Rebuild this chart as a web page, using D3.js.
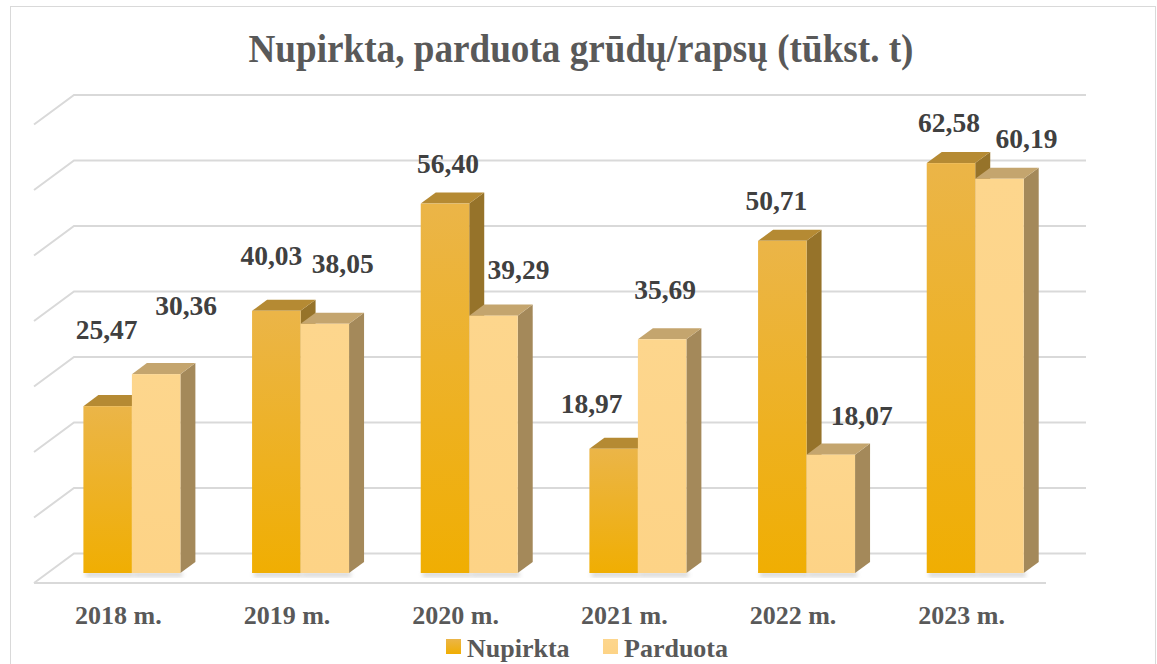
<!DOCTYPE html>
<meta charset="utf-8">
<style>
  body { margin: 0; background: #fff; }
  text { font-family: "Liberation Serif", "Times New Roman", serif; font-weight: bold; }
</style>
<script src="https://d3js.org/d3.v7.min.js"></script>
<body>
</body>
<script>
// chart data
var years = ["2018 m.", "2019 m.", "2020 m.", "2021 m.", "2022 m.", "2023 m."];
var seriesNames = ["Nupirkta", "Parduota"];
var nupirkta = [25.47, 40.03, 56.40, 18.97, 50.71, 62.58];
var parduota = [30.36, 38.05, 39.29, 35.69, 18.07, 60.19];
var yTicks = [0, 10, 20, 30, 40, 50, 60, 70];

// hand placed data label nudges (Excel moved them around a bit)
var labelNudgeX = [[-1, -5, 3, -22, -6, -2], [30, 18, 25, 3, 31, 27]];
var labelNudgeY = [[-36, -15, 0, -5, 0, 0], [-28, -20, -6, -9, 1, 0]];

var width = 1157, height = 664;

var svg = d3.select("body").append("svg")
    .attr("width", width)
    .attr("height", height);

// 3d layout: back wall + depth vector
var wallX0 = 74, wallX1 = 1086;
var depth = [-40, 29.5];       // back wall -> front edge of floor
var uFront = 0.661, uBack = 0.286;   // depth fractions of bar faces

var y = d3.scaleLinear().domain([0, 70]).range([553.5, 95]);
var x = d3.scaleBand().domain(years).range([0, wallX1 - wallX0])
    .paddingInner(0.425).paddingOuter(0.2125);
var xs = d3.scaleBand().domain(seriesNames).range([0, x.bandwidth()]);

var defs = svg.append("defs");
var g1 = defs.append("linearGradient").attr("id", "gN").attr("x1", 0).attr("y1", 0).attr("x2", 0).attr("y2", 1);
g1.append("stop").attr("offset", "0%").attr("stop-color", "#EBB548");
g1.append("stop").attr("offset", "100%").attr("stop-color", "#F0AE02");
var g2 = defs.append("linearGradient").attr("id", "gP").attr("x1", 0).attr("y1", 0).attr("x2", 0).attr("y2", 1);
g2.append("stop").attr("offset", "0%").attr("stop-color", "#FDD68D");
g2.append("stop").attr("offset", "100%").attr("stop-color", "#FDD386");
defs.append("filter").attr("id", "blur").append("feGaussianBlur").attr("stdDeviation", 2);

// outer border
svg.append("rect")
    .attr("x", 10.5).attr("y", 6.5)
    .attr("width", 1145).attr("height", 700)
    .attr("fill", "none").attr("stroke", "#D9D9D9");

// title
svg.append("text")
    .attr("x", 581).attr("y", 62)
    .attr("text-anchor", "middle")
    .attr("font-size", 41)
    .attr("textLength", 665).attr("lengthAdjust", "spacingAndGlyphs")
    .attr("fill", "#595959")
    .text("Nupirkta, parduota grūdų/rapsų (tūkst. t)");

// gridlines on back wall with side wall diagonals
var grid = svg.append("g").attr("stroke", "#D9D9D9").attr("stroke-width", 2).attr("fill", "none");
yTicks.forEach(function(t) {
    var yy = y(t);
    grid.append("path")
        .attr("d", "M" + (wallX0 + depth[0]) + "," + (yy + depth[1]) + "L" + wallX0 + "," + yy + "L" + wallX1 + "," + yy);
});
// floor front edge
grid.append("path")
    .attr("d", "M" + (wallX0 + depth[0]) + "," + (y(0) + depth[1]) + "L" + (wallX1 + depth[0]) + "," + (y(0) + depth[1]));

var faceColors = {
    Nupirkta: { front: "url(#gN)", top: "#B58A33", side: "#96732A" },
    Parduota: { front: "url(#gP)", top: "#C4A56E", side: "#A4895A" }
};

var fx = wallX0 + depth[0] * uFront, fy = depth[1] * uFront;   // front plane shift
var bdx = depth[0] * (uBack - uFront), bdy = depth[1] * (uBack - uFront); // to back of bar

var bars = [];
years.forEach(function(yr, i) {
    seriesNames.forEach(function(s, j) {
        var v = j === 0 ? nupirkta[i] : parduota[i];
        bars.push({ year: yr, i: i, series: s, j: j, value: v });
    });
});

var barG = svg.append("g");

// floor shadows
barG.selectAll(".shadow").data(bars).enter().append("rect")
    .attr("x", function(d) { return fx + x(d.year) + xs(d.series) + 2; })
    .attr("y", y(0) + fy - 1)
    .attr("width", xs.bandwidth())
    .attr("height", 5)
    .attr("fill", "#bbb").attr("opacity", 0.6)
    .attr("filter", "url(#blur)");

var bar = barG.selectAll(".bar").data(bars).enter().append("g").attr("class", "bar");

function geom(d) {
    var x0 = fx + x(d.year) + xs(d.series);
    var x1 = x0 + xs.bandwidth();
    var yt = y(d.value) + fy, yb = y(0) + fy;
    return { x0: x0, x1: x1, yt: yt, yb: yb };
}

bar.append("path")
    .attr("d", function(d) {
        var g = geom(d);
        return "M" + g.x1 + "," + g.yt + "L" + (g.x1 + bdx) + "," + (g.yt + bdy) +
            "L" + (g.x1 + bdx) + "," + (g.yb + bdy) + "L" + g.x1 + "," + g.yb + "Z";
    })
    .attr("fill", function(d) { return faceColors[d.series].side; });

bar.append("path")
    .attr("d", function(d) {
        var g = geom(d);
        return "M" + g.x0 + "," + g.yt + "L" + g.x1 + "," + g.yt +
            "L" + (g.x1 + bdx) + "," + (g.yt + bdy) + "L" + (g.x0 + bdx) + "," + (g.yt + bdy) + "Z";
    })
    .attr("fill", function(d) { return faceColors[d.series].top; });

bar.append("rect")
    .attr("x", function(d) { return geom(d).x0; })
    .attr("y", function(d) { return geom(d).yt; })
    .attr("width", xs.bandwidth())
    .attr("height", function(d) { var g = geom(d); return g.yb - g.yt; })
    .attr("fill", function(d) { return faceColors[d.series].front; });

// data labels
svg.append("g").selectAll("text").data(bars).enter().append("text")
    .attr("x", function(d) { return geom(d).x0 + xs.bandwidth() / 2 + labelNudgeX[d.j][d.i]; })
    .attr("y", function(d) { return geom(d).yt - 31 + labelNudgeY[d.j][d.i]; })
    .attr("text-anchor", "middle")
    .attr("font-size", 27.5)
    .attr("fill", "#404040")
    .text(function(d) { return d3.format(".2f")(d.value).replace(".", ","); });

// category labels along floor front edge
svg.append("g").selectAll("text").data(years).enter().append("text")
    .attr("x", function(d) { return wallX0 + depth[0] + x(d) + x.bandwidth() / 2; })
    .attr("y", 624)
    .attr("text-anchor", "middle")
    .attr("font-size", 26)
    .attr("fill", "#595959")
    .text(function(d) { return d; });

// legend
var legend = svg.append("g").attr("transform", "translate(446,639)");
var legX = [0, 157];
seriesNames.forEach(function(s, k) {
    var lg = legend.append("g").attr("transform", "translate(" + legX[k] + ",0)");
    lg.append("rect").attr("width", 15).attr("height", 15)
        .attr("fill", faceColors[s].front);
    lg.append("text").attr("x", 21).attr("y", 18)
        .attr("font-size", 26).attr("fill", "#595959")
        .text(s);
});
</script>
